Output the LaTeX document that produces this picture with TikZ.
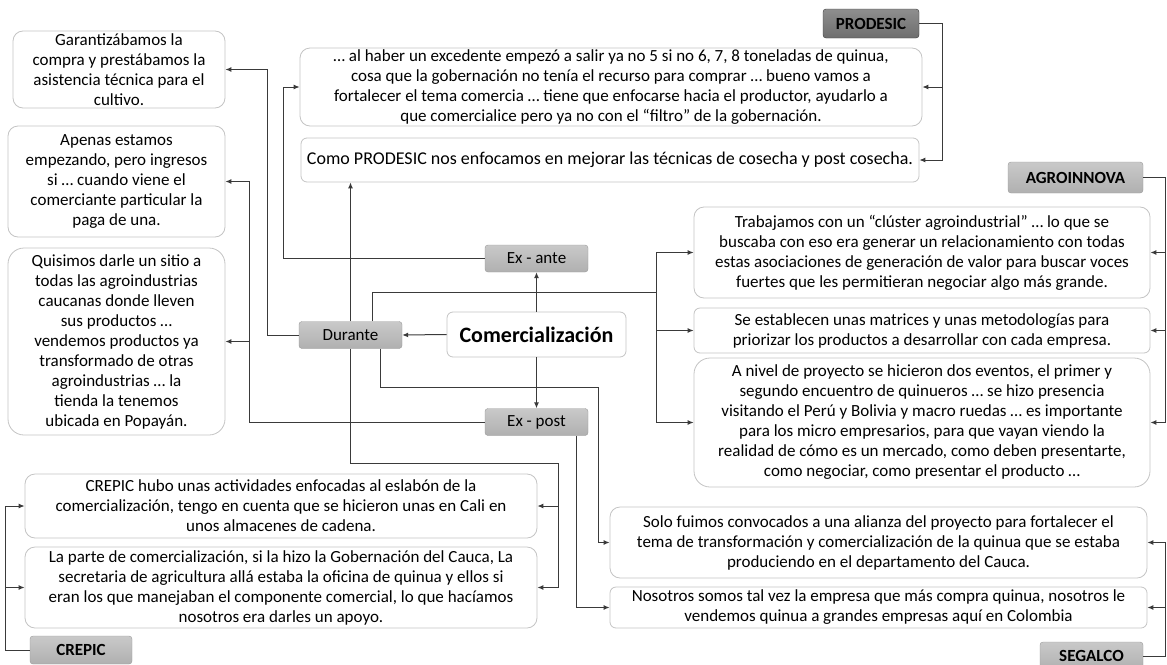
\documentclass[tikz,border=0pt]{standalone}
\usepackage{fontspec}
\setmainfont{Carlito}
\usepackage{tikz}
\usetikzlibrary{arrows.meta, positioning, calc}
\usepackage{xcolor}
\definecolor{linecol}{HTML}{3A3A3A}
\definecolor{boxline}{HTML}{C4C4C4}
\definecolor{graytop}{HTML}{C9C9C9}
\definecolor{graybot}{HTML}{B0B0B0}
\definecolor{graydraw}{HTML}{9A9A9A}
\definecolor{darktop}{HTML}{8E8E8E}
\definecolor{darkbot}{HTML}{6E6E6E}

\begin{document}
\begin{tikzpicture}[
    x=1pt, y=-1pt,
    >={Latex[length=6pt, width=5pt]},
    quote/.style={
        draw=boxline, fill=white, rounded corners=10pt, align=center,
        inner sep=1pt, line width=0.8pt, font=\fontsize{17}{20}\selectfont
    },
    phase/.style={
        draw=graydraw, top color=graytop, bottom color=graybot, rounded corners=3pt,
        minimum width=103pt, minimum height=27pt, inner sep=1pt,
        font=\fontsize{17}{20}\selectfont
    },
    actor/.style={
        phase, font=\fontsize{17}{20}\selectfont\bfseries
    },
    link/.style={
        ->, draw=linecol, line width=1pt
    },
]
\useasboundingbox (0,0) rectangle (1167,664);

% ── Centre and phases ──
\node[quote, rounded corners=6pt, minimum width=179pt, minimum height=45pt,
      font=\fontsize{22}{24}\selectfont\bfseries] (com) at (536.5,334.5) {Comercialización};
\node[phase] (exante) at (536.5,258.5) {Ex - ante};
\node[phase] (durante) at (350.5,335) {Durante};
\node[phase] (expost) at (536.5,422) {Ex - post};

% ── Actors ──
\node[actor, draw=linecol, top color=darktop, bottom color=darkbot,
      minimum width=96pt, minimum height=29pt] (prodesic) at (871,23.5) {PRODESIC};
\node[actor, minimum width=135pt, minimum height=31pt] (agro) at (1075.5,177.5) {AGROINNOVA};
\node[actor, minimum height=28pt] (segalco) at (1091.5,656) {SEGALCO};
\node[actor, minimum width=102pt, minimum height=28pt] (crepic) at (81,650) {CREPIC};

% ── Quotes (left column) ──
\node[quote, minimum width=212pt, minimum height=77pt] (garant) at (119,69.5)
    {Garantizábamos la\\compra y prestábamos la\\asistencia técnica para el\\cultivo.};
\node[quote, minimum width=217pt, minimum height=111pt] (apenas) at (116.5,181.5)
    {Apenas estamos\\empezando, pero ingresos\\si … cuando viene el\\comerciante particular la\\paga de una.};
\node[quote, rounded corners=16pt, minimum width=217pt, minimum height=187pt] (tienda) at (116.5,341.5)
    {Quisimos darle un sitio a\\todas las agroindustrias\\caucanas donde lleven\\sus productos …\\vendemos productos ya\\transformado de otras\\agroindustrias … la\\tienda la tenemos\\ubicada en Popayán.};

% ── Quotes (PRODESIC) ──
\node[quote, minimum width=622pt, minimum height=78pt] (excedente) at (611,87)
    {… al haber un excedente empezó a salir ya no 5 si no 6, 7, 8 toneladas de quinua,\\
     cosa que la gobernación no tenía el recurso para comprar … bueno vamos a\\
     fortalecer el tema comercia … tiene que enfocarse hacia el productor, ayudarlo a\\
     que comercialice pero ya no con el “filtro” de la gobernación.};
\node[quote, rounded corners=6pt, minimum width=618pt, minimum height=44pt,
      font=\fontsize{18}{20}\selectfont] (cosecha) at (610,160)
    {Como PRODESIC nos enfocamos en mejorar las técnicas de cosecha y post cosecha.};

% ── Quotes (AGROINNOVA) ──
\node[quote, minimum width=456pt, minimum height=91pt] (cluster) at (922,252.5)
    {Trabajamos con un “clúster agroindustrial” … lo que se\\
     buscaba con eso era generar un relacionamiento con todas\\
     estas asociaciones de generación de valor para buscar voces\\
     fuertes que les permitieran negociar algo más grande.};
\node[quote, rounded corners=6pt, minimum width=456pt, minimum height=45pt] (matrices) at (922,330.5)
    {Se establecen unas matrices y unas metodologías para\\
     priorizar los productos a desarrollar con cada empresa.};
\node[quote, rounded corners=16pt, minimum width=456pt, minimum height=129pt] (eventos) at (922,422.5)
    {A nivel de proyecto se hicieron dos eventos, el primer y\\
     segundo encuentro de quinueros … se hizo presencia\\
     visitando el Perú y Bolivia y macro ruedas … es importante\\
     para los micro empresarios, para que vayan viendo la\\
     realidad de cómo es un mercado, como deben presentarte,\\
     como negociar, como presentar el producto …};

% ── Quotes (SEGALCO) ──
\node[quote, minimum width=537pt, minimum height=71pt] (alianza) at (878.5,542.5)
    {Solo fuimos convocados a una alianza del proyecto para fortalecer el\\
     tema de transformación y comercialización de la quinua que se estaba\\
     produciendo en el departamento del Cauca.};
\node[quote, rounded corners=6pt, minimum width=537pt, minimum height=41pt] (compra) at (878.5,607.5)
    {Nosotros somos tal vez la empresa que más compra quinua, nosotros le\\
     vendemos quinua a grandes empresas aquí en Colombia};

% ── Quotes (CREPIC) ──
\node[quote, minimum width=512pt, minimum height=64pt] (eslabon) at (281,506)
    {CREPIC hubo unas actividades enfocadas al eslabón de la\\
     comercialización, tengo en cuenta que se hicieron unas en Cali en\\
     unos almacenes de cadena.};
\node[quote, minimum width=512pt, minimum height=81pt] (gobern) at (281,587.5)
    {La parte de comercialización, si la hizo la Gobernación del Cauca, La\\
     secretaria de agricultura allá estaba la oficina de quinua y ellos si\\
     eran los que manejaban el componente comercial, lo que hacíamos\\
     nosotros era darles un apoyo.};

% ── Routing columns ──
\coordinate (colCrepic) at (5,0);
\coordinate (colExpost) at (249,0);
\coordinate (colDurante) at (267,0);
\coordinate (colExante) at (283,0);
\coordinate (colCrepicR) at (558,0);
\coordinate (colAlianza) at (598,0);
\coordinate (colAgro) at (656,0);
\coordinate (colProd) at (942,0);
\coordinate (colRight) at (1165,0);
\coordinate (durUp) at (372,292);
\coordinate (durDown) at (380,387);
\coordinate (durLow) at (350.5,463);

% ── Centre to phases ──
\draw[link] (com.north) -- (exante.south);
\draw[link] (com.south) -- (expost.north);
\draw[link] (com.west) -- (durante.east);

% ── Ex-ante ──
\draw[link] (exante.west) -| (colExante |- excedente.west) -- (excedente.west);

% ── Durante ──
\draw[link] (durante.west) -| (colDurante |- garant.east) -- (garant.east);
\draw[link] (durante.north) -- (durante.north |- cosecha.south);
\draw[link] (durante.north -| durUp) -- (durUp) -| (colAgro |- cluster.west) -- (cluster.west);
\draw[link] (durUp) -| (colAgro |- matrices.west) -- (matrices.west);
\draw[link] (durUp) -| (colAgro |- eventos.west) -- (eventos.west);
\draw[link] (durante.south) -- (durLow) -| (colCrepicR |- gobern.east) -- (gobern.east);
\draw[link] (durLow) -| (colCrepicR |- eslabon.east) -- (eslabon.east);
\draw[link] (durante.south -| durDown) -- (durDown) -| (colAlianza |- alianza.west) -- (alianza.west);

% ── Ex-post ──
\draw[link] (expost.west) -| (colExpost |- apenas.east) -- (apenas.east);
\draw[link] (expost.west) -| (colExpost |- tienda.east) -- (tienda.east);
\draw[link] (expost.south -| 576,0) -- (576,607.5) -- (compra.west);

% ── Actors to quotes ──
\draw[link] (prodesic.east) -| (colProd |- cosecha.east) -- (cosecha.east);
\draw[link] (prodesic.east) -| (colProd |- excedente.east) -- (excedente.east);
\draw[link] (agro.east) -| (colRight |- eventos.east) -- (eventos.east);
\draw[link] (agro.east) -| (colRight |- cluster.east) -- (cluster.east);
\draw[link] (agro.east) -| (colRight |- matrices.east) -- (matrices.east);
\draw[link] (segalco.east) -| (colRight |- alianza.east) -- (alianza.east);
\draw[link] (segalco.east) -| (colRight |- compra.east) -- (compra.east);
\draw[link] (crepic.west) -| (colCrepic |- eslabon.west) -- (eslabon.west);
\draw[link] (crepic.west) -| (colCrepic |- gobern.west) -- (gobern.west);

\end{tikzpicture}
\end{document}
